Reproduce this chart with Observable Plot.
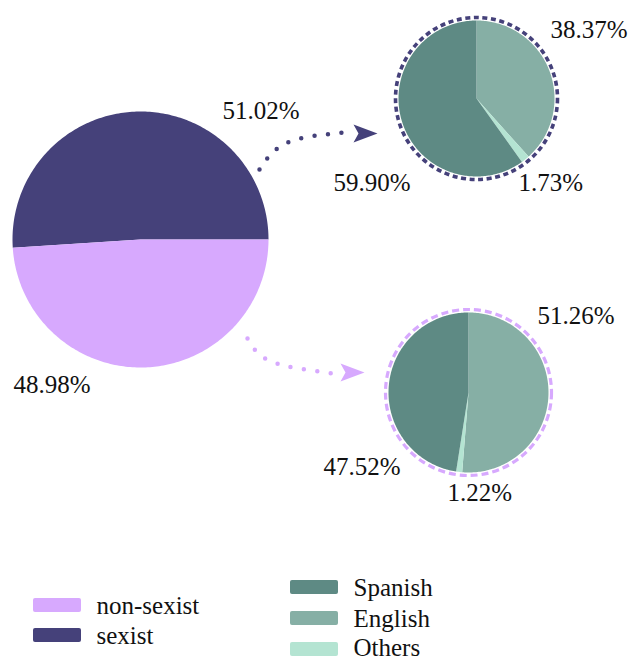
<!DOCTYPE html>
<html><head><meta charset="utf-8">
<script src="https://cdn.jsdelivr.net/npm/d3@7"></script>
<script src="https://cdn.jsdelivr.net/npm/@observablehq/plot@0.6"></script>
<style>body{margin:0;background:#fff;} svg{display:block}</style>
</head><body><div id="chart"></div>
<script>
// ---- data ----
const classes = ["sexist", "non-sexist"];
const classShares = [51.02, 48.98];
const languages = ["Spanish", "English", "Others"];
const sexistLangShares = [59.90, 38.37, 1.73];
const nonSexistLangShares = [47.52, 51.26, 1.22];
const classColors = ["#45417a", "#d7a9fe"];
const langColors = ["#5e8a84", "#86afa5", "#b4e4d2"];
const classLegendOrder = ["non-sexist", "sexist"];

// ---- layout ----
const W = 629, H = 661;
const FONT = "Liberation Serif";
const mainPie = {cx: 140, cy: 239, r: 128, endAngle: 90};
const subPies = {
  "sexist": {cx: 476, cy: 98, r: 78, ring: 81, dash: "5,3.6", ringW: 3.6, shares: sexistLangShares,
             labelPos: {Spanish: [333, 182], English: [550, 29], Others: [518, 182]}},
  "non-sexist": {cx: 468, cy: 392, r: 80, ring: 83, dash: "7,4", ringW: 3.2, shares: nonSexistLangShares,
             labelPos: {Spanish: [323, 466], English: [537, 315], Others: [447, 492]}}
};
const subOrder = ["English", "Others", "Spanish"]; // clockwise from 12 o'clock
const mainLabelPos = {"sexist": [222, 110], "non-sexist": [13, 384]};
const arrows = {
  "sexist": {path: [[259, 169], [287, 142], [345, 132]], tip: [377, 133]},
  "non-sexist": {path: [[247, 338], [271, 361], [333, 373]], tip: [364, 372]}
};
const legendLeft = {x: 33, y: 598, step: 30, w: 48, h: 14, tx: 96};
const legendRight = {x: 290, y: 580, step: 31, w: 48, h: 14, tx: 353};

const fmt = v => v.toFixed(2) + "%";

function slicePts(cx, cy, r, a0, a1, key, group) {
  const pts = [{x: cx, y: cy, key, group}];
  const n = Math.max(2, Math.ceil(Math.abs(a1 - a0)));
  for (let i = 0; i <= n; i++) {
    const a = (a0 + (a1 - a0) * i / n) * Math.PI / 180;
    pts.push({x: cx + r * Math.sin(a), y: cy - r * Math.cos(a), key, group});
  }
  return pts;
}

const slices = [];
const labels = [];
{
  let a = mainPie.endAngle - 360 * classShares[0] / 100;
  classes.forEach((c, i) => {
    const span = 360 * classShares[i] / 100;
    slices.push(...slicePts(mainPie.cx, mainPie.cy, mainPie.r, a, a + span, c, "main-" + c));
    a += span;
    labels.push({x: mainLabelPos[c][0], y: mainLabelPos[c][1], text: fmt(classShares[i])});
  });
}
const rings = [];
for (const c of classes) {
  const p = subPies[c];
  let a = 0;
  for (const lang of subOrder) {
    const v = p.shares[languages.indexOf(lang)];
    const span = 360 * v / 100;
    slices.push(...slicePts(p.cx, p.cy, p.r, a, a + span, lang, c + "-" + lang));
    a += span;
    labels.push({x: p.labelPos[lang][0], y: p.labelPos[lang][1], text: fmt(v)});
  }
  rings.push({x: p.cx, y: p.cy, key: c, r: p.ring, dash: p.dash, w: p.ringW});
}
const arrowPaths = [], arrowHeads = [];
for (const c of classes) {
  const A = arrows[c];
  A.path.forEach(([x, y]) => arrowPaths.push({x, y, key: c}));
  const [tx, ty] = A.tip, L = 24, hw = 9, notch = 5;
  arrowHeads.push({x: tx, y: ty, key: c}, {x: tx - L, y: ty - hw, key: c},
                  {x: tx - L + notch, y: ty, key: c}, {x: tx - L, y: ty + hw, key: c});
}
const legendRects = [], legendTexts = [];
classLegendOrder.forEach((c, i) => {
  const L = legendLeft, y = L.y + i * L.step;
  legendRects.push({x1: L.x, x2: L.x + L.w, y1: y, y2: y + L.h, key: c});
  legendTexts.push({x: L.tx, y: y + L.h / 2, text: c});
});
languages.forEach((c, i) => {
  const L = legendRight, y = L.y + i * L.step;
  legendRects.push({x1: L.x, x2: L.x + L.w, y1: y, y2: y + L.h, key: c});
  legendTexts.push({x: L.tx, y: y + L.h / 2 - (i === 2 ? 2 : 0), text: c});
});

const chart = Plot.plot({
  width: W, height: H, margin: 0,
  style: {background: "#fff"},
  x: {domain: [0, W], range: [0, W], axis: null},
  y: {domain: [0, H], range: [0, H], axis: null},
  color: {type: "ordinal", domain: [...classes, ...languages], range: [...classColors, ...langColors]},
  marks: [
    Plot.line(slices, {x: "x", y: "y", z: "group", fill: "key", stroke: "none", curve: "linear"}),
    ...rings.map(r => Plot.dot([r], {x: "x", y: "y", r: r.r, stroke: "key", fill: "none", strokeWidth: r.w, strokeDasharray: r.dash})),
    Plot.line(arrowPaths, {x: "x", y: "y", z: "key", stroke: "key", strokeWidth: 4.5, strokeLinecap: "round", strokeDasharray: "0,13.5", curve: "natural"}),
    Plot.line(arrowHeads, {x: "x", y: "y", z: "key", fill: "key", stroke: "none", curve: "linear"}),
    Plot.text(labels, {x: "x", y: "y", text: "text", textAnchor: "start", lineAnchor: "middle", fontSize: 25, fontFamily: FONT, fill: "#111"}),
    Plot.rect(legendRects, {x1: "x1", x2: "x2", y1: "y1", y2: "y2", fill: "key", rx: 2}),
    Plot.text(legendTexts, {x: "x", y: "y", text: "text", textAnchor: "start", lineAnchor: "middle", fontSize: 25, fontFamily: FONT, fill: "#111"})
  ]
});
document.getElementById("chart").appendChild(chart);
const applyFont = () => {
  d3.select(chart).style("font-family", FONT, "important");
  d3.select(chart).selectAll("g, text, tspan").style("font-family", FONT, "important");
};
applyFont();
const st = document.createElement("style");
st.textContent = 'svg, svg *, svg text, svg tspan { font-family: "Liberation Serif", serif !important; }';
document.head.appendChild(st);
</script>
</body></html>
